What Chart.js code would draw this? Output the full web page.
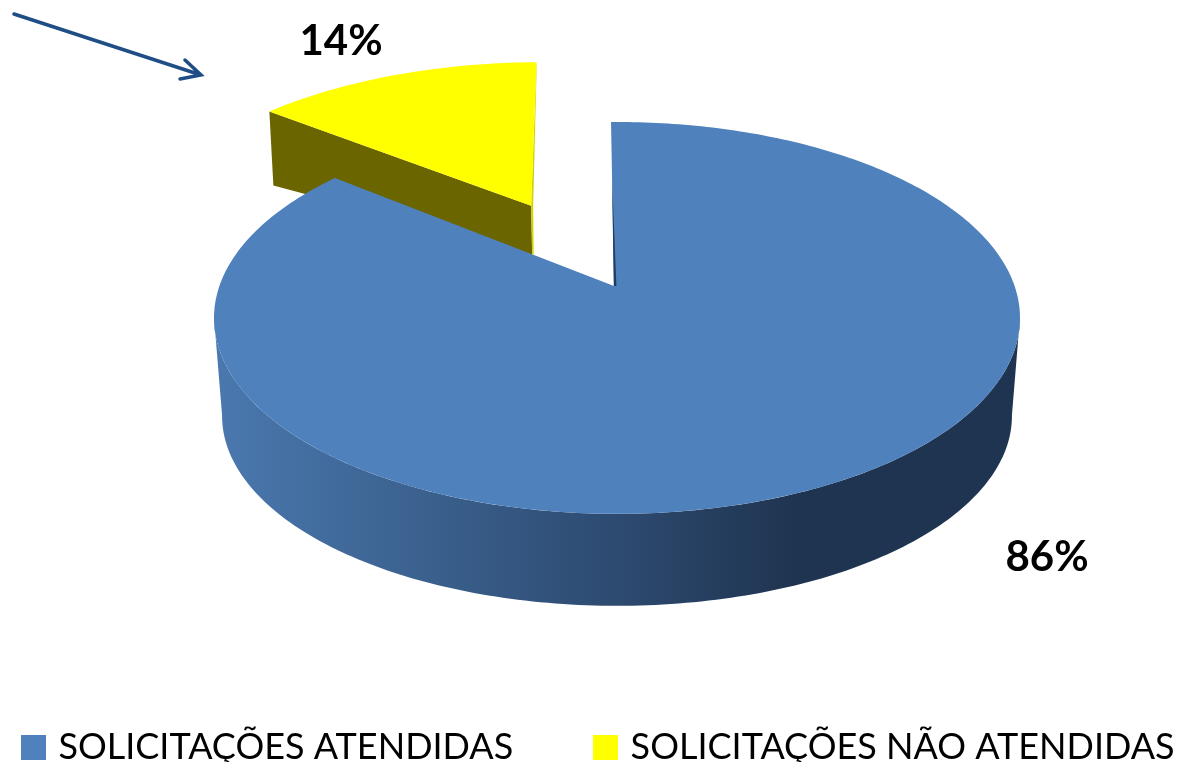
<!DOCTYPE html>
<html><head><meta charset="utf-8">
<style>html,body{margin:0;padding:0;background:#fff}canvas{display:block}</style>
<script src="https://cdn.jsdelivr.net/npm/chart.js@4/dist/chart.umd.min.js"></script>
</head><body><canvas id="c" width="1181" height="762"></canvas>
<script>
const categories = ['SOLICITAÇÕES ATENDIDAS', 'SOLICITAÇÕES NÃO ATENDIDAS'];
const values = [86, 14];
const sliceColors = ['#4F81BD', '#FFFF00'];
const sliceOffsets = [0, 146];
const valueLabelCenters = [[1047, 557], [341, 41]];

// Camera of the tilted pie: projects the flat pie's unit circle to the screen.
const cam = {x0: 617, y0: 286, a: 144.1, c: -0.163, d: 397.6};
const floor = {cx: 617, cy: 318, tx: 617, ty: 416, sx: 0.98, sy: 0.969};
const explodedWall = {rimDepth: 74, apexDepth: 49, rimDx: 4, apexDx: 1};
const apexShift = {whole: -3, exploded: -3.6, explodedStretch: 1.0175};
const wallStops = [[0, '#4A78AE'], [0.33, '#365A85'], [0.5, '#2D4A70'], [0.72, '#1F3450'], [1, '#1F3450']];
const arrow = {from: [14, 14], to: [201, 75], wing1: [185, 60], wing2: [180, 79], color: '#1F4E86'};
const legendGap = '\u00A0'.repeat(9);

function project(u, v) {
  const w = 1 + cam.c * v;
  return [cam.x0 + cam.d * u / w, (cam.a * v + cam.y0) / w];
}
function toFloor(p) {
  return [floor.tx + (p[0] - floor.cx) * floor.sx, floor.ty + (p[1] - floor.cy) * floor.sy];
}
function slicePoint(arc, angle, frac) {
  const mid = (arc.startAngle + arc.endAngle) / 2;
  const e = (arc.options.offset || 0) / arc.outerRadius;
  const ax = e * Math.cos(mid), ay = e * Math.sin(mid);
  const p = project(ax + frac * Math.cos(angle), ay + frac * Math.sin(angle));
  if (e > 0) {
    const apexX = project(ax, ay)[0];
    p[0] = apexX + (p[0] - apexX) * apexShift.explodedStretch + apexShift.exploded;
  } else {
    p[0] += apexShift.whole * (1 - frac);
  }
  return p;
}
function rim(arc, from, to, map) {
  const n = Math.max(2, Math.ceil(Math.abs(to - from) * 60)), out = [];
  for (let i = 0; i <= n; i++) {
    const p = slicePoint(arc, from + (to - from) * i / n, 1);
    out.push(map ? map(p) : p);
  }
  return out;
}
function fillPoly(ctx, pts, color) {
  ctx.beginPath();
  pts.forEach((p, i) => i ? ctx.lineTo(p[0], p[1]) : ctx.moveTo(p[0], p[1]));
  ctx.closePath();
  ctx.fillStyle = color;
  ctx.fill();
}
function drawSlice(ctx, arc) {
  const exploded = (arc.options.offset || 0) > 0;
  const apex = slicePoint(arc, arc.startAngle, 0);
  const top = rim(arc, arc.startAngle, arc.endAngle);
  if (exploded) {
    const L = top[0], R = top[top.length - 1], W = explodedWall;
    const Lb = [L[0] + W.rimDx, L[1] + W.rimDepth], Ab = [apex[0] + W.apexDx, apex[1] + W.apexDepth];
    fillPoly(ctx, [L, apex, Ab, Lb], '#6B6500');
    fillPoly(ctx, [R, [R[0] + 0.2, R[1] + 3], [apex[0] + 2, apex[1]], [Ab[0] + 1.5, Ab[1]], Ab, apex], '#D2D200');
  } else {
    const lo = Math.max(arc.startAngle, 0.16), hi = Math.min(arc.endAngle, Math.PI - 0.16);
    if (hi > lo) {
      const g = ctx.createLinearGradient(218, 0, 1018, 0);
      wallStops.forEach(s => g.addColorStop(s[0], s[1]));
      fillPoly(ctx, rim(arc, lo, hi).concat(rim(arc, lo, hi, toFloor).reverse()), g);
    }
  }
  fillPoly(ctx, [apex].concat(top), arc.options.backgroundColor);
  if (!exploded) {
    const s = top[0];
    const m = [apex[0] + (s[0] - apex[0]) * 0.65, apex[1] + (s[1] - apex[1]) * 0.65];
    fillPoly(ctx, [[m[0], m[1]], [apex[0] + 2.4, apex[1]], [apex[0] - 0.2, apex[1]]], '#1F3C63');
  }
}
const pie3d = {
  id: 'pie3d',
  beforeDatasetDraw(chart, args) {
    const ctx = chart.ctx, arcs = args.meta.data;
    ctx.save();
    [1, 0].forEach(i => drawSlice(ctx, arcs[i]));
    ctx.restore();
    return false;
  },
  afterDraw(chart) {
    const ctx = chart.ctx;
    ctx.save();
    ctx.font = 'bold 42px Lato';
    ctx.fillStyle = '#000';
    ctx.textAlign = 'center';
    ctx.textBaseline = 'middle';
    values.forEach((v, i) => ctx.fillText(v + '%', valueLabelCenters[i][0], valueLabelCenters[i][1]));
    ctx.strokeStyle = arrow.color;
    ctx.lineWidth = 3.5;
    ctx.lineCap = 'round';
    ctx.beginPath();
    ctx.moveTo(arrow.from[0], arrow.from[1]);
    ctx.lineTo(arrow.to[0], arrow.to[1]);
    ctx.moveTo(arrow.wing1[0], arrow.wing1[1]);
    ctx.lineTo(arrow.to[0], arrow.to[1]);
    ctx.lineTo(arrow.wing2[0], arrow.wing2[1]);
    ctx.stroke();
    ctx.restore();
  }
};
function swatch(color) {
  const c = document.createElement('canvas');
  c.width = 25; c.height = 25;
  const x = c.getContext('2d');
  x.fillStyle = color;
  x.fillRect(0, 0, 25, 25);
  return c;
}
new Chart(document.getElementById('c'), {
  type: 'pie',
  data: {labels: categories, datasets: [{data: values, backgroundColor: sliceColors, offset: sliceOffsets, borderWidth: 0}]},
  options: {
    responsive: false,
    animation: false,
    rotation: -1,
    layout: {padding: {left: 20, bottom: -13}},
    plugins: {
      tooltip: {enabled: false},
      legend: {
        position: 'bottom',
        labels: {
          usePointStyle: true, pointStyleWidth: 14, boxHeight: 25, padding: 2.5, color: '#000',
          font: {family: 'Lato', size: 36},
          generateLabels(chart) {
            return Chart.overrides.pie.plugins.legend.labels.generateLabels(chart).map((it, i) => ({
              ...it,
              text: i === 0 ? it.text + legendGap : it.text,
              pointStyle: swatch(sliceColors[i])
            }));
          }
        }
      }
    }
  },
  plugins: [pie3d]
});
</script></body></html>
